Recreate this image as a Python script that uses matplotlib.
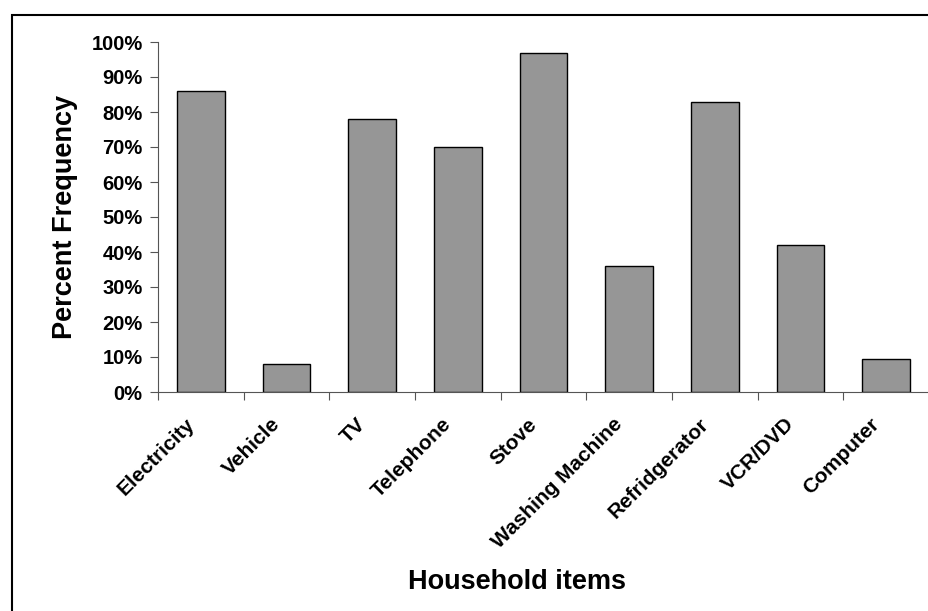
import numpy as np
import matplotlib
matplotlib.use("Agg")
import matplotlib.pyplot as plt
from matplotlib.patches import Rectangle
from matplotlib.transforms import ScaledTranslation

plt.rcParams['font.family'] = ['Liberation Sans', 'DejaVu Sans']

# categorie e valori (percentuali)
items = ["Electricity", "Vehicle", "TV", "Telephone", "Stove",
         "Washing Machine", "Refridgerator", "VCR/DVD", "Computer"]
perc = [86, 8, 78, 70, 97, 36, 83, 42, 9.3]

yticks = np.arange(0, 101, 10)

fig = plt.figure(figsize=(9.29, 6.11), dpi=100)
ax = fig.add_axes([158/929, 1-392/611, 1-158/929, 350/611])

x = np.arange(len(items))
ax.bar(x, perc, width=0.556, color="#969696", edgecolor="black", linewidth=1.0)

ax.set_xlim(-0.5, len(items)-0.5)
ax.set_ylim(0, 100)
ax.set_yticks(yticks)
ax.set_yticklabels(["%d%%" % v for v in yticks], fontsize=14.5, fontweight="bold")

# tick sull'asse x ai confini delle categorie
ax.set_xticks(np.arange(len(items)+1)-0.5)
ax.set_xticklabels([])
ax.set_xticks(x, minor=True)
ax.set_xticklabels(items, minor=True, rotation=45, ha="right",
                   rotation_mode="anchor", fontsize=15, fontweight="bold")
ax.tick_params(axis="x", which="minor", length=0, pad=14)
ax.tick_params(axis="x", which="major", length=6, direction="out", color="#555555")
ax.tick_params(axis="y", length=6, direction="out", color="#555555", pad=5)

# sposto un po' le etichette ruotate
sposta = ScaledTranslation(-16/100, -3/100, fig.dpi_scale_trans)
for lbl in ax.get_xticklabels(minor=True):
    lbl.set_transform(lbl.get_transform() + sposta)

ax.spines["top"].set_visible(False)
ax.spines["right"].set_visible(False)
ax.spines["left"].set_color("#555555")
ax.spines["bottom"].set_color("#555555")

ax.set_ylabel("Percent Frequency", fontsize=19.5, fontweight="bold", labelpad=10)
fig.text(0.557, 1-582/611, "Household items", fontsize=19.5, fontweight="bold",
         ha="center", va="center")

# cornice del grafico
fig.patches.append(Rectangle((12/929, -0.1), 2, 1.1-15/611, transform=fig.transFigure,
                             fill=False, edgecolor="black", linewidth=1.5))

plt.savefig("out.png", dpi=100)
